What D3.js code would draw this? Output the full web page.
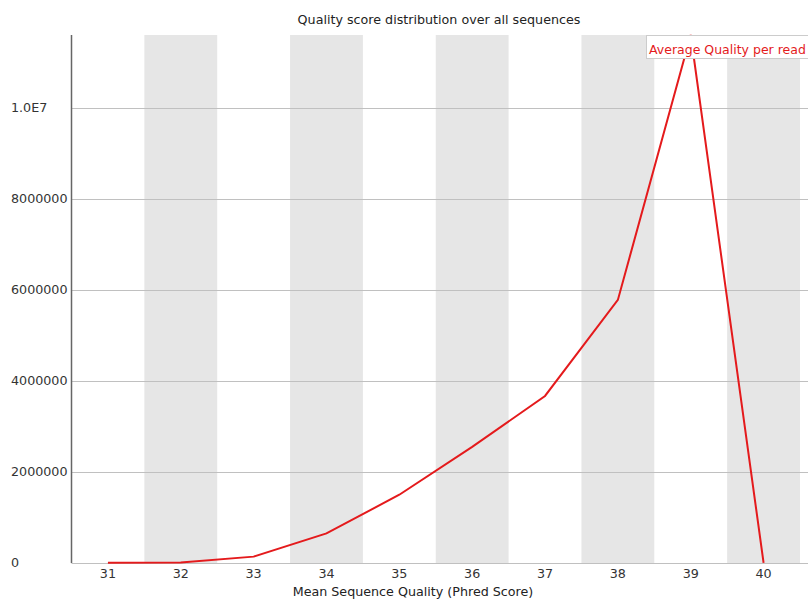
<!DOCTYPE html>
<html>
<head>
<meta charset="utf-8">
<script src="https://cdn.jsdelivr.net/npm/d3@7"></script>
<style>
  body { margin: 0; background: #fff; }
  svg { font-family: "DejaVu Sans", sans-serif; }
</style>
</head>
<body>
<div id="chart"></div>
<script>
// quality scores on x, read counts on y
const scores = ["31", "32", "33", "34", "35", "36", "37", "38", "39", "40"];
const counts = [8000, 12000, 140000, 650000, 1500000, 2550000, 3670000, 5780000, 11600000, 5000];
const yTicks = [0, 2000000, 4000000, 6000000, 8000000, 10000000];
const seriesName = "Average Quality per read";

const width = 808, height = 599;
const mLeft = 71.5, mRight = 800, mTop = 35, mBottom = 563;
const fs = 12.7;

const svg = d3.select("#chart").append("svg")
  .attr("width", width)
  .attr("height", height);

const x = d3.scaleBand().domain(scores).range([mLeft, mRight]);
const y = d3.scaleLinear().domain([0, d3.max(counts)]).range([mBottom, mTop]);

// alternating grey bands
svg.selectAll("rect.band")
  .data(scores.filter((d, i) => i % 2 === 1))
  .enter().append("rect")
  .attr("x", d => x(d))
  .attr("y", mTop)
  .attr("width", x.bandwidth())
  .attr("height", mBottom - mTop)
  .attr("fill", "#e6e6e6");

// horizontal grid lines
svg.selectAll("line.grid")
  .data(yTicks)
  .enter().append("line")
  .attr("x1", mLeft)
  .attr("x2", width)
  .attr("y1", d => Math.round(y(d)) + 0.5)
  .attr("y2", d => Math.round(y(d)) + 0.5)
  .attr("stroke", "#c0c0c0")
  .attr("stroke-width", 1);

// y tick labels, left aligned like the original
svg.selectAll("text.ylab")
  .data(yTicks)
  .enter().append("text")
  .attr("x", 11)
  .attr("y", d => y(d) + 4)
  .attr("font-size", fs)
  .attr("fill", "#333")
  .text(d => d >= 10000000 ? (d / 1e7).toFixed(1) + "E7" : d3.format("d")(d));

// y axis line
svg.append("line")
  .attr("x1", mLeft).attr("x2", mLeft)
  .attr("y1", mTop).attr("y2", mBottom)
  .attr("stroke", "#666").attr("stroke-width", 1.5);

// x tick labels
svg.selectAll("text.xlab")
  .data(scores)
  .enter().append("text")
  .attr("x", d => x(d) + x.bandwidth() / 2)
  .attr("y", 578)
  .attr("text-anchor", "middle")
  .attr("font-size", fs)
  .attr("fill", "#333")
  .text(d => d);

// the data line
const line = d3.line()
  .x((d, i) => x(scores[i]) + x.bandwidth() / 2)
  .y(d => y(d));

svg.append("path")
  .datum(counts)
  .attr("d", line)
  .attr("fill", "none")
  .attr("stroke", "#e41a1c")
  .attr("stroke-width", 2);

// title and axis label
svg.append("text")
  .attr("x", 439).attr("y", 24)
  .attr("text-anchor", "middle")
  .attr("font-size", fs)
  .attr("fill", "#222")
  .text("Quality score distribution over all sequences");

svg.append("text")
  .attr("x", 413).attr("y", 596)
  .attr("text-anchor", "middle")
  .attr("font-size", fs)
  .attr("fill", "#222")
  .text("Mean Sequence Quality (Phred Score)");

// legend
const lg = svg.append("g").attr("transform", "translate(646.5,35.5)");
lg.append("rect")
  .attr("width", 165).attr("height", 23)
  .attr("fill", "#fff")
  .attr("stroke", "#cccccc");
lg.append("text")
  .attr("x", 2.5).attr("y", 18)
  .attr("font-size", 12.5)
  .attr("fill", "#e41a1c")
  .text(seriesName);
</script>
</body>
</html>
